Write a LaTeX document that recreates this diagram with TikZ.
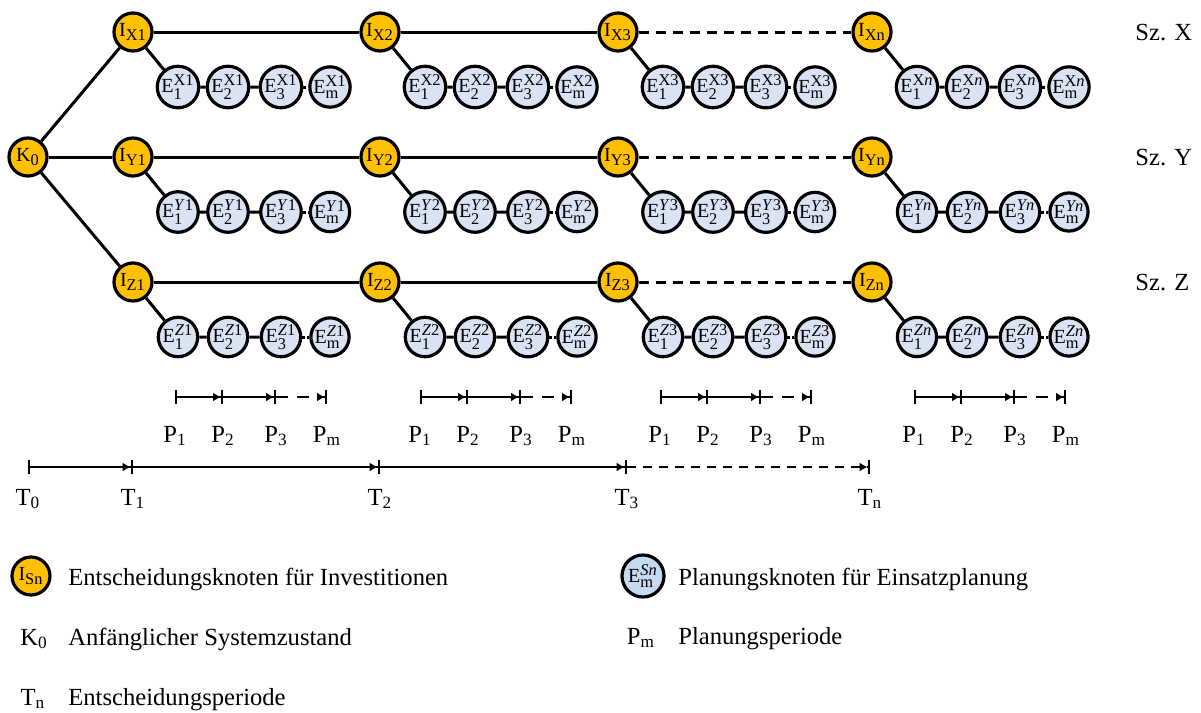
\documentclass[tikz,border=0pt]{standalone}
\usepackage{amsmath}
\usepackage{fontspec}
\setmainfont{Liberation Serif}
\usetikzlibrary{arrows.meta}
\DeclareMathSizes{10}{10}{8.2}{6}

\definecolor{invorange}{HTML}{FFC000}
\definecolor{einsatzblue}{HTML}{DAE3F3}
\definecolor{legendblue}{HTML}{C6D9F0}

\tikzset{
	inode/.style={circle, draw, line width=1.6pt, fill=invorange, minimum size=19pt, inner sep=0pt, font=\fontsize{10}{12}\selectfont},
	enode/.style={inode, fill=einsatzblue},
	link/.style={line width=1.5pt},
	linkdash/.style={link, dash pattern=on 5pt off 3.5pt},
	per/.style={line width=1pt, -{Latex[length=4pt,width=4.5pt] Bar[width=7pt]}},
	perdash/.style={per, dash pattern=on 6pt off 4.5pt},
	perstart/.style={per, {Bar[width=7pt]}-{Latex[length=4pt,width=4.5pt] Bar[width=7pt]}},
	lbl/.style={inner sep=0pt, font=\fontsize{12.3}{14}\selectfont},
}

% investment node with its four dispatch nodes
\def\planblock(#1,#2)#3#4{%
	\node[inode] (I#3) at (#1,#2) {I$_{\text{#3}}$};
	\node[enode] (E#3a) at (#1+45,#2+55) {E$^{\text{#4}}_{\text{1}}$};
	\node[enode] (E#3b) at (#1+95,#2+55) {E$^{\text{#4}}_{\text{2}}$};
	\node[enode] (E#3c) at (#1+148,#2+55) {E$^{\text{#4}}_{\text{3}}$};
	\node[enode] (E#3d) at (#1+197,#2+55) {E$^{\text{#4}}_{\text{m}}$};
	\draw[link] (I#3) -- (E#3a) -- (E#3b) -- (E#3c);
	\draw[link, dash pattern=on 1.5pt off 1pt] (E#3c) -- (E#3d);
}

% planning periods under one column
\def\perrow(#1)#2{%
	\coordinate (P#2a) at (#1+42,397);
	\coordinate (P#2b) at (#1+90,397);
	\coordinate (P#2c) at (#1+143,397);
	\coordinate (P#2d) at (#1+194,397);
	\draw[perstart] (P#2a) -- (P#2b);
	\draw[per] (P#2b) -- (P#2c);
	\draw[perdash] (P#2c) -- (P#2d);
	\node[lbl, anchor=base] (LP#2a) at (#1+42,442) {P$_{\text{1}}$};
	\node[lbl, anchor=base] (LP#2b) at (#1+90,442) {P$_{\text{2}}$};
	\node[lbl, anchor=base] (LP#2c) at (#1+143,442) {P$_{\text{3}}$};
	\node[lbl, anchor=base] (LP#2d) at (#1+194,442) {P$_{\text{m}}$};
}

\begin{document}
\begin{tikzpicture}[x=0.5pt, y=-0.5pt]
	\useasboundingbox (0,0) rectangle (1201,713);
	
	%%%%% TREE %%%%%
	\node[inode] (K0) at (28,157) {K$_{\text{0}}$};
	
	\planblock(133,32){X1}{X1}
	\planblock(380,32){X2}{X2}
	\planblock(618,32){X3}{X3}
	\planblock(872,32){Xn}{X\textit{n}}
	
	\planblock(133,157){Y1}{\textit{Y}1}
	\planblock(380,157){Y2}{\textit{Y}2}
	\planblock(618,157){Y3}{\textit{Y}3}
	\planblock(872,157){Yn}{\textit{Yn}}
	
	\planblock(133,282){Z1}{\textit{Z}1}
	\planblock(380,282){Z2}{\textit{Z}2}
	\planblock(618,282){Z3}{\textit{Z}3}
	\planblock(872,282){Zn}{\textit{Zn}}
	
	\draw[link] (K0) -- (IX1);
	\draw[link] (K0) -- (IY1);
	\draw[link] (K0) -- (IZ1);
	
	\draw[link] (IX1) -- (IX2) -- (IX3);
	\draw[linkdash] (IX3) -- (IXn);
	\draw[link] (IY1) -- (IY2) -- (IY3);
	\draw[linkdash] (IY3) -- (IYn);
	\draw[link] (IZ1) -- (IZ2) -- (IZ3);
	\draw[linkdash] (IZ3) -- (IZn);
	
	\node[lbl, anchor=base west] (szX) at (1135,40) {Sz. X};
	\node[lbl, anchor=base west] (szY) at (1135,165) {Sz. Y};
	\node[lbl, anchor=base west] (szZ) at (1135,290) {Sz. Z};
	
	%%%%% PERIODS %%%%%
	\perrow(133){1}
	\perrow(378){2}
	\perrow(618){3}
	\perrow(872){4}
	
	\coordinate (T0) at (28,467);
	\coordinate (T1) at (133,467);
	\coordinate (T2) at (380,467);
	\coordinate (T3) at (627,467);
	\coordinate (Tn) at (870,467);
	\draw[perstart, line width=1.2pt] (T0) -- (T1);
	\draw[per, line width=1.2pt] (T1) -- (T2);
	\draw[per, line width=1.2pt] (T2) -- (T3);
	\draw[perdash, line width=1.2pt, dash pattern=on 4.5pt off 3.5pt] (T3) -- (Tn);
	\node[lbl, anchor=base] (LT0) at (28,505) {T$_{\text{0}}$};
	\node[lbl, anchor=base] (LT1) at (133,505) {T$_{\text{1}}$};
	\node[lbl, anchor=base] (LT2) at (380,505) {T$_{\text{2}}$};
	\node[lbl, anchor=base] (LT3) at (627,505) {T$_{\text{3}}$};
	\node[lbl, anchor=base] (LTn) at (870,505) {T$_{\text{n}}$};
	
	%%%%% LEGEND %%%%%
	\node[inode] (legI) at (31,576) {I$_{\text{Sn}}$};
	\node[lbl, anchor=base west] (legItxt) at (68,585) {Entscheidungsknoten für Investitionen};
	\node[lbl, anchor=base] (legK) at (34,645) {K$_{\text{0}}$};
	\node[lbl, anchor=base west] (legKtxt) at (68,645) {Anfänglicher Systemzustand};
	\node[lbl, anchor=base] (legT) at (33,705) {T$_{\text{n}}$};
	\node[lbl, anchor=base west] (legTtxt) at (68,705) {Entscheidungsperiode};
	
	\node[enode, fill=legendblue, minimum size=21pt] (legE) at (643,576) {E$^{\text{\textit{Sn}}}_{\text{m}}$};
	\node[lbl, anchor=base west] (legEtxt) at (678,585) {Planungsknoten für Einsatzplanung};
	\node[lbl, anchor=base] (legP) at (641,644) {P$_{\text{m}}$};
	\node[lbl, anchor=base west] (legPtxt) at (678,644) {Planungsperiode};
\end{tikzpicture}
\end{document}
